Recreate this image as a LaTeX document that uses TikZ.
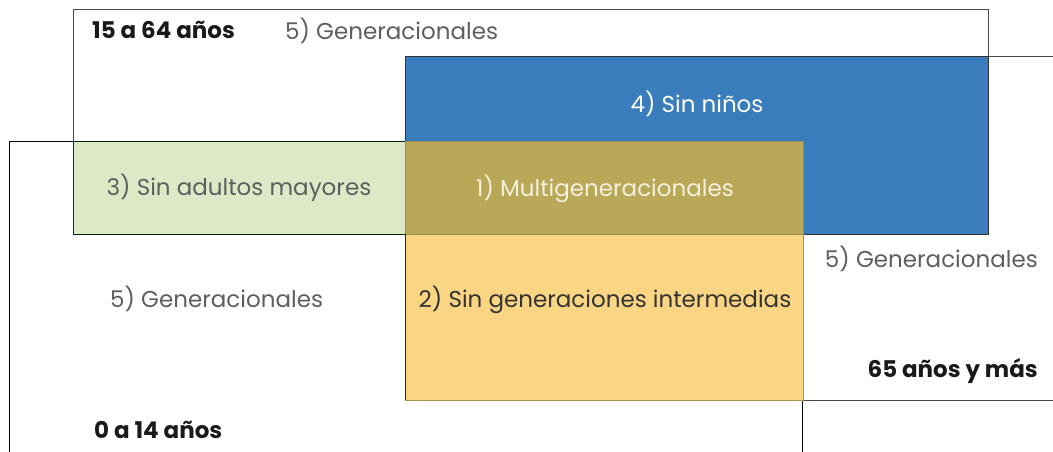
\documentclass[tikz,border=0pt]{standalone}
\usepackage{fontspec}
\setmainfont{Poppins}
\definecolor{blueset}{HTML}{3A7DBC}
\definecolor{greenset}{HTML}{DDE8C6}
\definecolor{oliveset}{HTML}{B8A858}
\definecolor{yellowset}{HTML}{FAD583}
\definecolor{graytext}{HTML}{5E5E5E}
\definecolor{creamtext}{HTML}{F6F1DE}
\definecolor{darktext}{HTML}{333333}
\definecolor{edgegray}{HTML}{4A4A4A}
\begin{document}
\begin{tikzpicture}[x=1pt,y=-1pt,
  setbox/.style={draw=edgegray,line width=1pt,inner sep=0pt,outer sep=0pt,anchor=north west},
  fillbox/.style={inner sep=0pt,outer sep=0pt,anchor=north west,line width=1pt},
  lbl/.style={inner sep=0pt,font=\fontsize{23}{26}\selectfont,text=graytext},
  boldlbl/.style={inner sep=0pt,font=\fontsize{23}{26}\selectfont\bfseries,text=black!90}]
\useasboundingbox (0,0) rectangle (1053,452);
\begin{scope}
\clip (0,0) rectangle (1053,452);
% age sets
\node[setbox,minimum width=915pt,minimum height=224pt] (adult) at (73,10) {};
\node[setbox,minimum width=660pt,minimum height=343pt,draw=edgegray] (old) at (405,57) {};
\node[setbox,minimum width=793pt,minimum height=330pt,draw=black] (child) at (9,141) {};
% coloured regions
\node[fillbox,fill=blueset,draw=black!80,minimum width=583pt,minimum height=177pt] (nokids) at (405,57) {};
\node[fillbox,fill=greenset,draw=black!65!green!40!black,minimum width=332pt,minimum height=93pt] (noold) at (73,141) {};
\node[fillbox,fill=yellowset,draw=oliveset!90!black,minimum width=398pt,minimum height=166pt] (nomid) at (405,234) {};
\node[fillbox,fill=oliveset,draw=oliveset!85!black,minimum width=398pt,minimum height=93pt] (multi) at (405,141) {};
\draw[black!85,line width=1pt] (nomid.north west) -- (nomid.south west);
\draw[black!85,line width=1pt] (noold.north west) -- (noold.south west);
\end{scope}
% labels
\node[boldlbl,anchor=base west] (t1564) at (92,39) {15 a 64 años};
\node[lbl,anchor=base west] (g1) at (285,40) {5) Generacionales};
\node[lbl,text=white,anchor=base] (t4) at (697,112) {4) Sin niños};
\node[lbl,anchor=base] (t3) at (239,195) {3) Sin adultos mayores};
\node[lbl,text=creamtext,anchor=base] (t1) at (605,196) {1) Multigeneracionales};
\node[lbl,anchor=base east] (g2) at (1038,267) {5) Generacionales};
\node[lbl,anchor=base west] (g3) at (110,307) {5) Generacionales};
\node[lbl,text=darktext,anchor=base] (t2) at (605,307) {2) Sin generaciones intermedias};
\node[boldlbl,anchor=base east] (t65) at (1038,377) {65 años y más};
\node[boldlbl,anchor=base west] (t014) at (94,438) {0 a 14 años};
\end{tikzpicture}
\end{document}
